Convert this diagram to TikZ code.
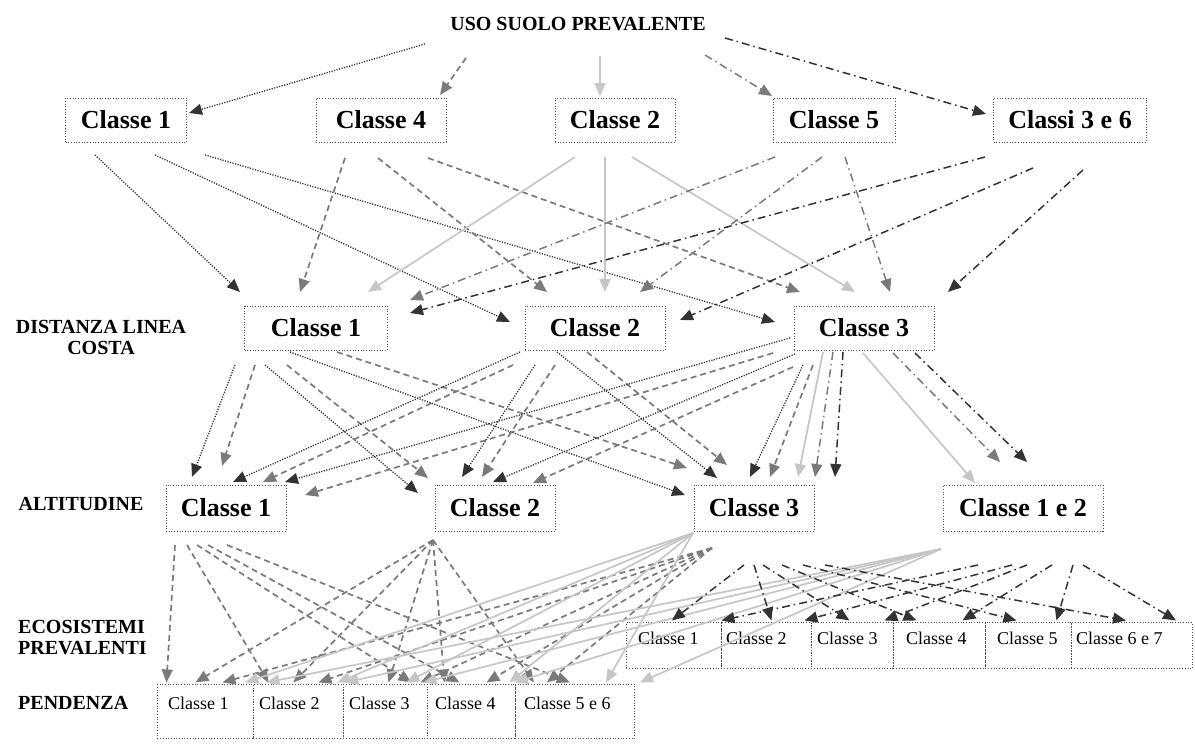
\documentclass[tikz,border=0pt]{standalone}
\usepackage{fontspec}
\setmainfont{Liberation Serif}
\usetikzlibrary{arrows.meta,calc}

\definecolor{inkdark}{HTML}{333333}
\definecolor{inkmid}{HTML}{7A7A7A}
\definecolor{inklight}{HTML}{C6C6C6}
\definecolor{boxline}{HTML}{505050}

% connector between two named nodes, with offsets from their centres
\newcommand\cn[5]{\draw[#1] ($(#2)+(#3)$) -- ($(#4)+(#5)$);}

\begin{document}
\begin{tikzpicture}[x=1pt,y=-1pt,
  tip/.style={-{Triangle[length=13pt,width=11pt]}},
  lnA/.style={tip,draw=inkdark,line width=1.3pt,dash pattern=on 1.2pt off 1.4pt},
  lnB/.style={tip,draw=inkmid,line width=1.7pt,dash pattern=on 6pt off 4pt},
  lnC/.style={tip,draw=inklight,line width=1.7pt},
  lnD/.style={tip,draw=inkmid,line width=1.5pt,dash pattern=on 8pt off 4pt on 1.5pt off 4pt},
  lnE/.style={tip,draw=inkdark,line width=1.5pt,dash pattern=on 8pt off 4pt on 1.5pt off 4pt},
  dotbox/.style={draw=boxline,line width=0.9pt,dash pattern=on 0.9pt off 1.8pt},
  bigbox/.style={dotbox,minimum height=44pt,inner sep=0pt,font=\bfseries\fontsize{26}{29}\selectfont},
  smallbox/.style={dotbox,inner sep=0pt,anchor=north west},
  smalltext/.style={anchor=west,inner sep=0pt,font=\fontsize{18}{20}\selectfont},
  rowlab/.style={inner sep=0pt,font=\bfseries\fontsize{20}{21}\selectfont},
]
\useasboundingbox (0,0) rectangle (1195,754);
\fill[white] (0,0) rectangle (1195,754);

% root
\node[rowlab] (title) at (578,24) {USO SUOLO PREVALENTE};

% row labels
\node[rowlab,align=center] (lbdist) at (101,337) {DISTANZA LINEA\\COSTA};
\node[rowlab] (lbalt) at (81,504) {ALTITUDINE};
\node[rowlab,align=left,anchor=west] (lbeco) at (18,638) {ECOSISTEMI\\PREVALENTI};
\node[rowlab,anchor=west] (lbpen) at (18,703) {PENDENZA};

% land use classes
\node[bigbox,minimum width=121pt] (a1) at (126,120) {Classe 1};
\node[bigbox,minimum width=130pt] (a4) at (381,120) {Classe 4};
\node[bigbox,minimum width=120pt] (a2) at (615,120) {Classe 2};
\node[bigbox,minimum width=122pt] (a5) at (834,120) {Classe 5};
\node[bigbox,minimum width=153pt] (a36) at (1070,120) {Classi 3 e 6};

% distance from the coastline
\node[bigbox,minimum width=143pt] (b1) at (316,328) {Classe 1};
\node[bigbox,minimum width=140pt] (b2) at (595,328) {Classe 2};
\node[bigbox,minimum width=140pt] (b3) at (864,328) {Classe 3};

% altitude
\node[bigbox,minimum width=120pt,minimum height=46pt] (c1) at (226,508) {Classe 1};
\node[bigbox,minimum width=120pt,minimum height=46pt] (c2) at (495,508) {Classe 2};
\node[bigbox,minimum width=120pt,minimum height=46pt] (c3) at (754,508) {Classe 3};
\node[bigbox,minimum width=160pt,minimum height=46pt] (c12) at (1023,508) {Classe 1 e 2};

% prevailing ecosystems
\node[smallbox,minimum width=95pt,minimum height=46pt] (d1) at (626,622) {};
\node[smallbox,minimum width=90pt,minimum height=46pt] (d2) at (721,622) {};
\node[smallbox,minimum width=82pt,minimum height=46pt] (d3) at (811,622) {};
\node[smallbox,minimum width=92pt,minimum height=46pt] (d4) at (893,622) {};
\node[smallbox,minimum width=86pt,minimum height=46pt] (d5) at (985,622) {};
\node[smallbox,minimum width=121pt,minimum height=46pt] (d67) at (1071,622) {};
\node[smalltext] (d1t) at (638,638) {Classe 1};
\node[smalltext] (d2t) at (726,638) {Classe 2};
\node[smalltext] (d3t) at (817,638) {Classe 3};
\node[smalltext] (d4t) at (906,638) {Classe 4};
\node[smalltext] (d5t) at (997,638) {Classe 5};
\node[smalltext] (d67t) at (1076,638) {Classe 6 e 7};

% slope
\node[smallbox,minimum width=96pt,minimum height=54pt] (p1) at (157,684) {};
\node[smallbox,minimum width=90pt,minimum height=54pt] (p2) at (253,684) {};
\node[smallbox,minimum width=84pt,minimum height=54pt] (p3) at (343,684) {};
\node[smallbox,minimum width=88pt,minimum height=54pt] (p4) at (427,684) {};
\node[smallbox,minimum width=119pt,minimum height=54pt] (p56) at (515,684) {};
\node[smalltext] (p1t) at (168,703) {Classe 1};
\node[smalltext] (p2t) at (259,703) {Classe 2};
\node[smalltext] (p3t) at (349,703) {Classe 3};
\node[smalltext] (p4t) at (435,703) {Classe 4};
\node[smalltext] (p56t) at (524,703) {Classe 5 e 6};

% root -> land use
\cn{lnA}{title}{-153,20}{a1}{63,-7}
\cn{lnB}{title}{-112,34}{a4}{59,-25}
\cn{lnC}{title}{22,32}{a2}{-15,-24}
\cn{lnD}{title}{127,31}{a5}{-62,-24}
\cn{lnE}{title}{147,14}{a36}{-84,-6}

% land use -> distance
\cn{lnA}{a1}{-31,35}{b1}{-76,-36}
\cn{lnA}{a1}{29,35}{b2}{-85,-6}
\cn{lnA}{a1}{79,35}{b3}{-89,-6}
\cn{lnB}{a4}{-36,38}{b1}{-16,-36}
\cn{lnB}{a4}{-3,38}{b2}{-48,-36}
\cn{lnB}{a4}{47,38}{b3}{-64,-36}
\cn{lnC}{a2}{-40,37}{b1}{52,-36}
\cn{lnC}{a2}{-10,37}{b2}{10,-36}
\cn{lnC}{a2}{17,37}{b3}{-9,-36}
\cn{lnD}{a5}{-59,37}{b1}{94,-28}
\cn{lnD}{a5}{-12,37}{b2}{45,-36}
\cn{lnD}{a5}{11,37}{b3}{26,-36}
\cn{lnE}{a36}{-85,37}{b1}{94,-15}
\cn{lnE}{a36}{-37,48}{b2}{85,-8}
\cn{lnE}{a36}{13,50}{b3}{84,-36}

% distance -> altitude
\cn{lnA}{b1}{-81,37}{c1}{-34,-31}
\cn{lnB}{b1}{-61,37}{c1}{-4,-42}
\cn{lnA}{b1}{-51,37}{c2}{-77,-15}
\cn{lnB}{b1}{-29,37}{c2}{-67,-30}
\cn{lnA}{b1}{-26,24}{c3}{-69,-13}
\cn{lnB}{b1}{21,24}{c3}{-67,-40}
\cn{lnA}{b2}{-75,24}{c1}{7,-26}
\cn{lnB}{b2}{-82,37}{c1}{37,-26}
\cn{lnA}{b2}{-60,37}{c2}{-33,-31}
\cn{lnB}{b2}{-40,37}{c2}{-13,-31}
\cn{lnA}{b2}{-38,24}{c3}{-37,-30}
\cn{lnB}{b2}{-8,24}{c3}{-27,-43}
\cn{lnA}{b3}{-74,10}{c1}{59,-26}
\cn{lnA}{b3}{-69,26}{c2}{-2,-26}
\cn{lnB}{b3}{-91,25}{c1}{79,-13}
\cn{lnB}{b3}{-71,39}{c2}{38,-25}
\cn{lnA}{b3}{-61,37}{c3}{-4,-31}
\cn{lnB}{b3}{-51,37}{c3}{16,-31}
\cn{lnC}{b3}{-41,24}{c3}{44,-31}
\cn{lnD}{b3}{-31,24}{c3}{61,-31}
\cn{lnE}{b3}{-21,24}{c3}{81,-31}
\cn{lnC}{b3}{-1,25}{c12}{-48,-25}
\cn{lnD}{b3}{29,25}{c12}{-23,-46}
\cn{lnE}{b3}{51,25}{c12}{4,-46}

% altitude -> slope
\cn{lnB}{c1}{-51,37}{p1}{-39,-29}
\cn{lnB}{c1}{-39,37}{p2}{-30,-29}
\cn{lnB}{c1}{-29,37}{p3}{26,-29}
\cn{lnB}{c1}{-18,37}{p4}{-12,-29}
\cn{lnB}{c1}{1,37}{p56}{-5,-29}
\cn{lnB}{c2}{-62,32}{p1}{-10,-29}
\cn{lnB}{c2}{-62,32}{p2}{-5,-29}
\cn{lnB}{c2}{-62,32}{p3}{3,-29}
\cn{lnB}{c2}{-62,32}{p4}{-27,-29}
\cn{lnB}{c2}{-62,32}{p56}{-41,-29}
\cn{lnB}{c3}{-42,40}{p1}{17,-29}
\cn{lnB}{c3}{-42,40}{p2}{20,-29}
\cn{lnB}{c3}{-42,40}{p3}{35,-29}
\cn{lnB}{c3}{-42,40}{p4}{15,-29}
\cn{lnB}{c3}{-42,40}{p56}{-28,-29}
\cn{lnC}{c3}{-61,25}{p1}{40,-29}
\cn{lnC}{c3}{-61,25}{p2}{39,-29}
\cn{lnC}{c3}{-61,25}{p3}{21,-29}
\cn{lnC}{c3}{-61,25}{p4}{38,-29}
\cn{lnC}{c3}{-61,25}{p56}{31,-29}
\cn{lnC}{c12}{-82,41}{p2}{-32,-29}
\cn{lnC}{c12}{-82,41}{p3}{-40,-29}
\cn{lnC}{c12}{-82,41}{p3}{38,-29}
\cn{lnC}{c12}{-82,41}{p56}{-60,-29}
\cn{lnC}{c12}{-82,41}{p56}{65,-29}

% altitude -> ecosystems
\cn{lnE}{c3}{-10,57}{d1}{-2,-25}
\cn{lnE}{c3}{0,57}{d2}{5,-25}
\cn{lnE}{c3}{9,57}{d3}{-3,-25}
\cn{lnE}{c3}{28,57}{d4}{-23,-25}
\cn{lnE}{c3}{49,57}{d5}{-12,-25}
\cn{lnE}{c3}{71,57}{d67}{-6,-25}
\cn{lnE}{c12}{-45,57}{d2}{-45,-25}
\cn{lnE}{c12}{-11,57}{d2}{38,-25}
\cn{lnE}{c12}{4,57}{d3}{32,-25}
\cn{lnE}{c12}{29,57}{d4}{23,-25}
\cn{lnE}{c12}{50,57}{d5}{28,-25}
\cn{lnE}{c12}{60,57}{d67}{44,-25}
\end{tikzpicture}
\end{document}
